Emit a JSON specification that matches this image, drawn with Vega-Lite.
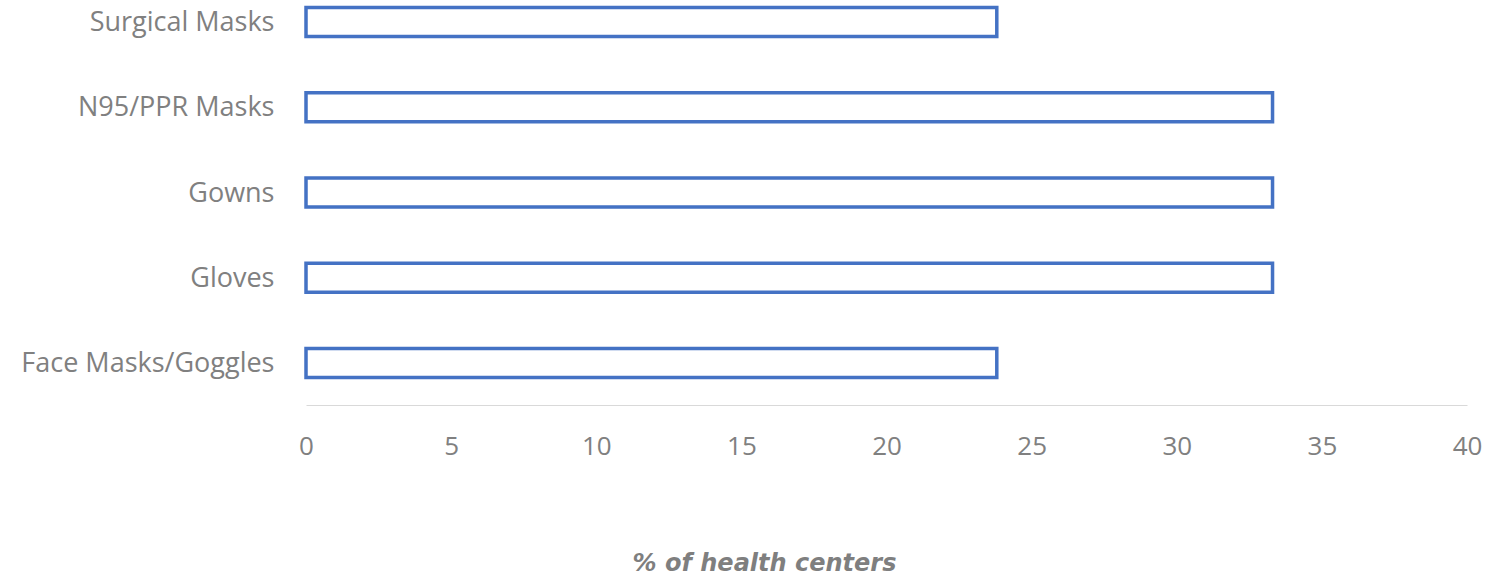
{
  "$schema": "https://vega.github.io/schema/vega-lite/v6.json",
  "autosize": {"type": "none"},
  "width": 1161,
  "height": 405,
  "padding": {"left": 306, "top": 0, "right": 30, "bottom": 172},
  "background": "white",
  "data": {"values": [
    {"item": "Surgical Masks", "pct": 23.8},
    {"item": "N95/PPR Masks", "pct": 33.3},
    {"item": "Gowns", "pct": 33.3},
    {"item": "Gloves", "pct": 33.3},
    {"item": "Face Masks/Goggles", "pct": 23.8}
  ]},
  "mark": {"type": "bar", "fill": "white", "stroke": "#4472C4", "strokeWidth": 3.5},
  "encoding": {
    "y": {
      "field": "item", "type": "nominal", "sort": null,
      "scale": {"paddingInner": 0.66, "paddingOuter": 0.205, "align": 0.214},
      "axis": {"title": null, "domain": false, "ticks": false, "labelPadding": 32, "labelLimit": 400,
        "labelFont": "Open Sans", "labelFontSize": 27, "labelColor": "#808080", "labelOffset": 1}
    },
    "x": {
      "field": "pct", "type": "quantitative",
      "scale": {"domain": [0, 40], "nice": false},
      "axis": {"values": [0, 5, 10, 15, 20, 25, 30, 35, 40], "grid": false, "ticks": false,
        "domainColor": "#d9d9d9", "domainWidth": 1.2, "labelFlush": false,
        "labelFont": "Open Sans", "labelFontSize": 26, "labelColor": "#808080", "labelPadding": 28,
        "title": "% of health centers", "titleFont": "DejaVu Sans", "titleFontSize": 24,
        "titleFontStyle": "italic", "titleFontWeight": "bold", "titleColor": "#7f7f7f",
        "titleX": 458, "titleY": 158, "titleAlign": "center", "titleBaseline": "middle"}
    }
  },
  "config": {"view": {"stroke": null}}
}
